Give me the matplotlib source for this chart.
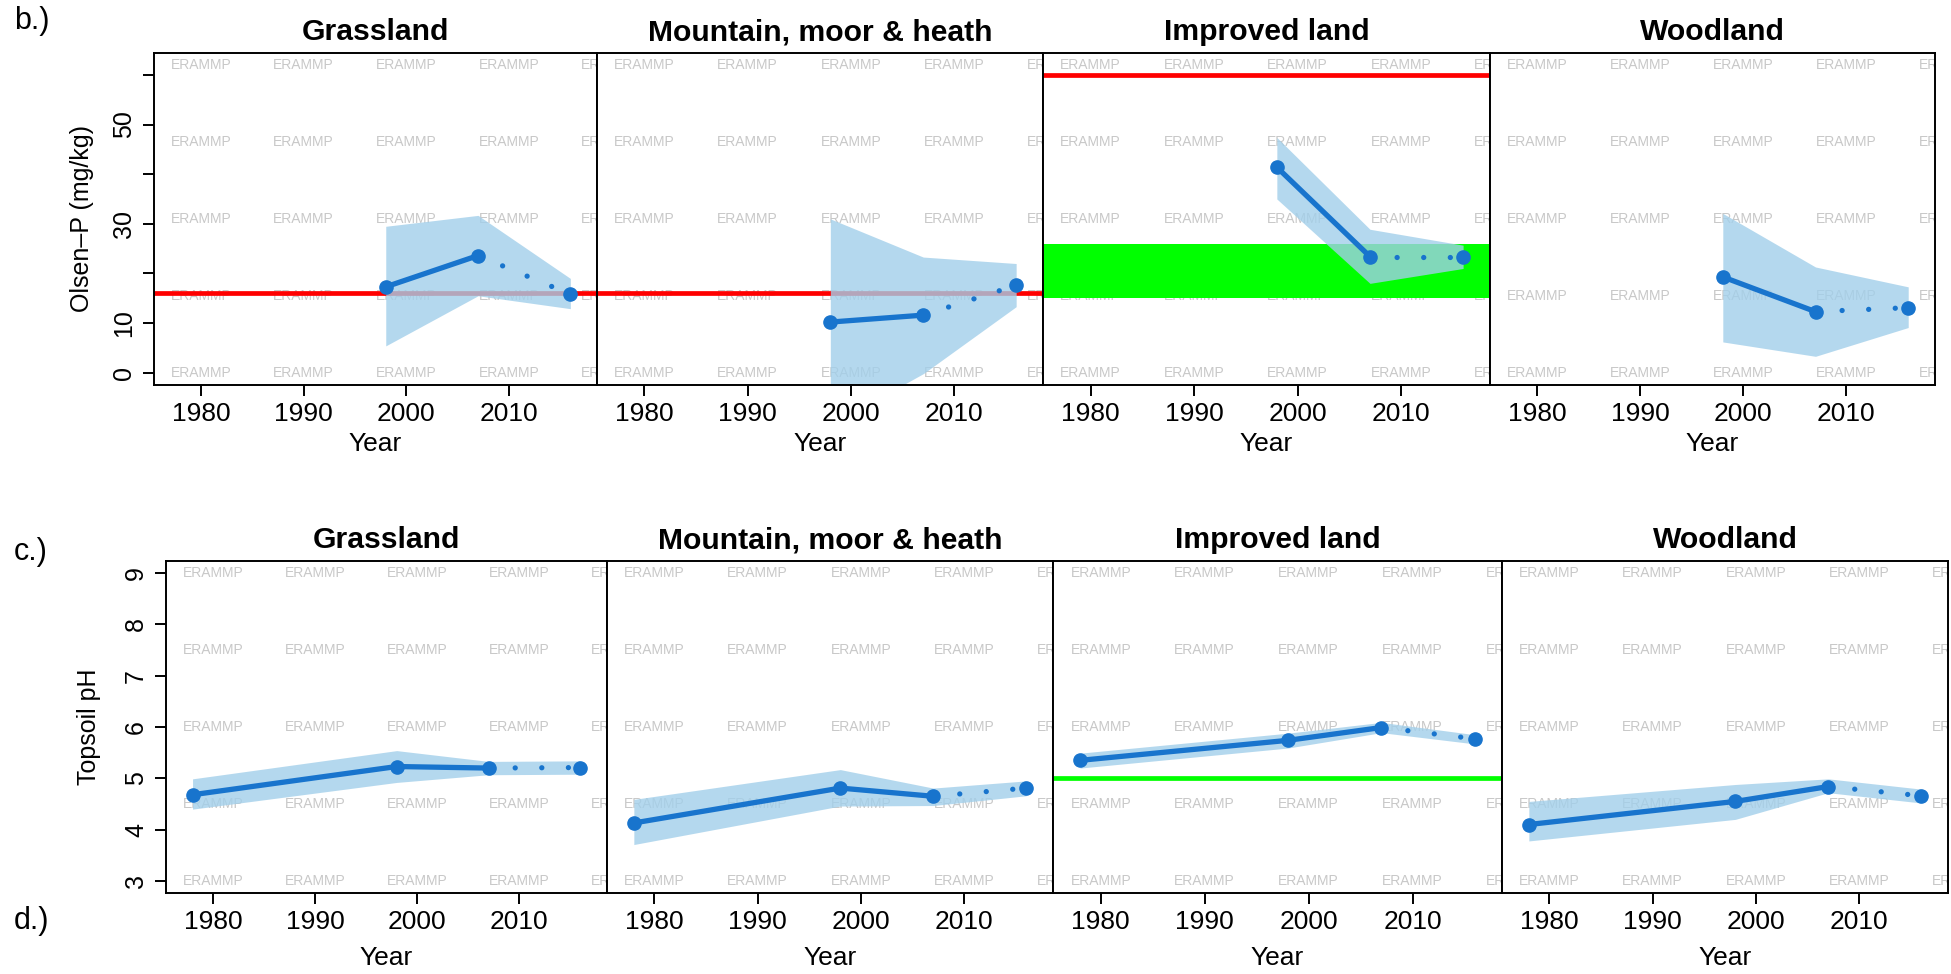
import matplotlib
matplotlib.use("Agg")
import matplotlib.pyplot as plt

plt.rcParams['font.family'] = ['Liberation Sans', 'DejaVu Sans']

# ---------------- data ----------------
habitats = ["Grassland", "Mountain, moor & heath", "Improved land", "Woodland"]

# b.) Olsen-P (mg/kg)
p_years = [1998, 2007, 2016]
p_grass_mean = [17.3, 23.6, 15.8]
p_grass_lo = [5.4, 15.5, 12.9]
p_grass_hi = [29.5, 31.7, 19.0]
p_mount_mean = [10.2, 11.6, 17.6]
p_mount_lo = [-10.6, -0.2, 13.3]
p_mount_hi = [31.0, 23.3, 22.0]
p_impr_mean = [41.4, 23.4, 23.4]
p_impr_lo = [35.0, 18.0, 21.0]
p_impr_hi = [47.4, 28.9, 25.7]
p_wood_mean = [19.3, 12.3, 13.1]
p_wood_lo = [6.2, 3.3, 9.1]
p_wood_hi = [32.1, 21.3, 17.3]
p_red_lines = [16, 16, 60, None]
p_green_band = [None, None, (15, 26), None]

# c.) Topsoil pH
ph_years = [1978, 1998, 2007, 2016]
ph_grass_mean = [4.68, 5.23, 5.20, 5.21]
ph_grass_lo = [4.40, 4.92, 5.07, 5.08]
ph_grass_hi = [4.99, 5.54, 5.33, 5.34]
ph_mount_mean = [4.13, 4.81, 4.65, 4.81]
ph_mount_lo = [3.71, 4.46, 4.47, 4.66]
ph_mount_hi = [4.59, 5.17, 4.81, 4.95]
ph_impr_mean = [5.35, 5.74, 5.99, 5.77]
ph_impr_lo = [5.20, 5.59, 5.89, 5.67]
ph_impr_hi = [5.49, 5.88, 6.09, 5.85]
ph_wood_mean = [4.10, 4.55, 4.84, 4.66]
ph_wood_lo = [3.78, 4.20, 4.72, 4.52]
ph_wood_hi = [4.55, 4.88, 4.99, 4.79]
ph_green_lines = [None, None, 5.0, None]

x_ticks = [1980, 1990, 2000, 2010]
p_yticks = [0, 10, 20, 30, 40, 50, 60]
p_yticklabels = ["0", "10", "", "30", "", "50", ""]
ph_yticks = [3, 4, 5, 6, 7, 8, 9]
ph_yticklabels = ["3", "4", "5", "6", "7", "8", "9"]

# ---------------- style ----------------
W, H = 1951, 974
LINE_C = '#1874CD'
BAND_C = (162 / 255, 207 / 255, 234 / 255)
WM_C = '#c8c8c8'

fig = plt.figure(figsize=(W / 100, H / 100), dpi=100)


def add_ax(l, r, top, bot):
    return fig.add_axes([l / W, 1 - bot / H, (r - l) / W, (bot - top) / H])


def panel(ax, years, mean, lo, hi, xlim, ylim, wm_y, title):
    ax.set_xlim(*xlim)
    ax.set_ylim(*ylim)
    for xv in [1980, 1990, 2000, 2010, 2020]:
        for yv in wm_y:
            ax.text(xv, yv, 'ERAMMP', ha='center', va='center', fontsize=10,
                    color=WM_C, clip_on=True, zorder=0.5)
    ax.fill_between(years, lo, hi, color=BAND_C, alpha=0.8, lw=0, zorder=2)
    ax.plot(years[:-1], mean[:-1], color=LINE_C, lw=3.8, solid_capstyle='round', zorder=3)
    ax.plot(years[-2:], mean[-2:], color=LINE_C, lw=3.8, linestyle=(0, (0.01, 5.03)),
            dash_capstyle='round', zorder=3)
    ax.plot(years, mean, 'o', ms=9.5, color=LINE_C, mec=LINE_C, zorder=4)
    for s in ax.spines.values():
        s.set_linewidth(1.4)
        s.set_color('black')
    ax.set_xticks(x_ticks)
    ax.set_xticklabels([str(v) for v in x_ticks])
    ax.tick_params(axis='x', length=8, width=1.4, pad=4, labelsize=19)
    ax.set_title(title, fontsize=21.7, fontweight='bold', pad=9)
    ax.set_xlabel('Year', fontsize=19)


xlim = (1975.4, 2018.6)

# top row
top_l = [154, 597, 1043, 1490]
top_r = [597, 1043, 1490, 1935]
T_TOP, T_BOT = 52.7, 385.0
p_means = [p_grass_mean, p_mount_mean, p_impr_mean, p_wood_mean]
p_los = [p_grass_lo, p_mount_lo, p_impr_lo, p_wood_lo]
p_his = [p_grass_hi, p_mount_hi, p_impr_hi, p_wood_hi]
for i in range(4):
    ax = add_ax(top_l[i], top_r[i], T_TOP, T_BOT)
    if p_green_band[i] is not None:
        ax.axhspan(p_green_band[i][0], p_green_band[i][1], color='#00ff00', lw=0, zorder=1)
    if p_red_lines[i] is not None:
        ax.axhline(p_red_lines[i], color='#ff0000', lw=3.4, zorder=1.2)
    panel(ax, p_years, p_means[i], p_los[i], p_his[i], xlim, (-2.48, 64.48),
          [0, 15.5, 31, 46.5, 62], habitats[i])
    w = top_r[i] - top_l[i]
    ax.xaxis.set_label_coords(0.5, (T_BOT - 444) / (T_BOT - T_TOP))
    ax.xaxis.label.set_va('center')
    if i == 0:
        ax.set_yticks(p_yticks)
        ax.set_yticklabels(p_yticklabels, rotation=90, va='center')
        ax.tick_params(axis='y', length=8, width=1.4, pad=5, labelsize=18)
        ax.set_ylabel('Olsen\u2013P (mg/kg)', fontsize=18)
        ax.yaxis.label.set_va('center')
        ax.yaxis.set_label_coords((82 - top_l[0]) / w, 0.5)
    else:
        ax.set_yticks([])

# bottom row
bot_l = [166, 607, 1053, 1502]
bot_r = [607, 1053, 1502, 1948]
B_TOP, B_BOT = 560.7, 893.3
ph_means = [ph_grass_mean, ph_mount_mean, ph_impr_mean, ph_wood_mean]
ph_los = [ph_grass_lo, ph_mount_lo, ph_impr_lo, ph_wood_lo]
ph_his = [ph_grass_hi, ph_mount_hi, ph_impr_hi, ph_wood_hi]
for i in range(4):
    ax = add_ax(bot_l[i], bot_r[i], B_TOP, B_BOT)
    if ph_green_lines[i] is not None:
        ax.axhline(ph_green_lines[i], color='#00ff00', lw=3.4, zorder=1.2)
    panel(ax, ph_years, ph_means[i], ph_los[i], ph_his[i], xlim, (2.76, 9.24),
          [3, 4.5, 6, 7.5, 9], habitats[i])
    w = bot_r[i] - bot_l[i]
    ax.xaxis.set_label_coords(0.5, (B_BOT - 958) / (B_BOT - B_TOP))
    ax.xaxis.label.set_va('center')
    if i == 0:
        ax.set_yticks(ph_yticks)
        ax.set_yticklabels(ph_yticklabels, rotation=90, va='center')
        ax.tick_params(axis='y', length=8, width=1.4, pad=5, labelsize=18)
        ax.set_ylabel('Topsoil pH', fontsize=18)
        ax.yaxis.label.set_va('center')
        ax.yaxis.set_label_coords((89 - bot_l[0]) / w, 0.5)
    else:
        ax.set_yticks([])

# panel labels
fig.text(14 / W, 1 - 21 / H, 'b.)', fontsize=22, va='center', ha='left')
fig.text(14 / W, 1 - 552 / H, 'c.)', fontsize=22, va='center', ha='left')
fig.text(14 / W, 1 - 921 / H, 'd.)', fontsize=22, va='center', ha='left')

fig.savefig('out.png', dpi=100)
